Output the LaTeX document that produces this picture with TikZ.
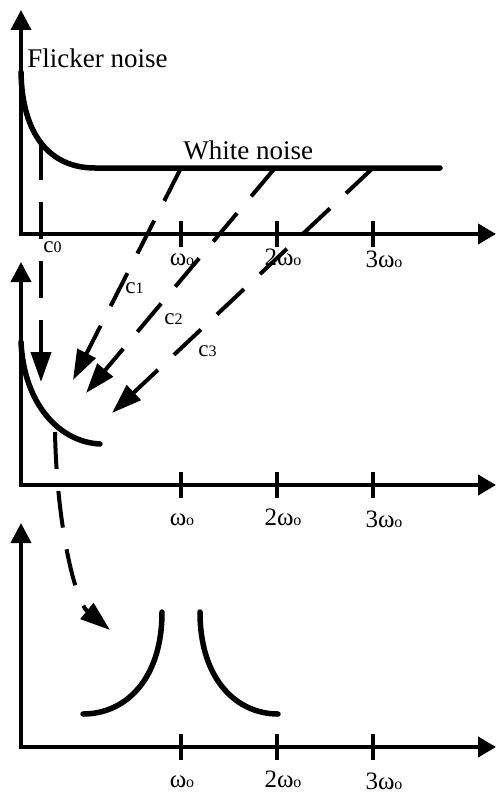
\documentclass[tikz,border=0pt]{standalone}
\usepackage{fontspec}
\setmainfont{Liberation Serif}
\usetikzlibrary{arrows.meta,positioning}

\newcommand{\wo}[1]{#1ω{\fontsize{8}{9}\selectfont o}}
\newcommand{\cn}[1]{c{\fontsize{8}{9}\selectfont #1}}

\begin{document}
\begin{tikzpicture}[x=0.5pt,y=-0.5pt,
  axis/.style={line width=2pt,{Triangle[length=10pt,width=10pt]}-{Triangle[length=9pt,width=10pt]}},
  ticmark/.style={line width=2pt},
  noise/.style={line width=2.75pt,line cap=round},
  shiftarrow/.style={line width=2pt,dash pattern=on 18.5pt off 11pt,-{Triangle[length=15pt,width=10pt]}},
  lbl/.style={inner sep=0pt,anchor=base,font=\fontsize{12.5}{14}\selectfont},
  txt/.style={inner sep=0pt,anchor=base west,font=\fontsize{13.5}{15}\selectfont},
  clbl/.style={inner sep=0pt,anchor=base west,font=\fontsize{11.5}{14}\selectfont}]
\useasboundingbox (0,0) rectangle (496,792);

% axes and ticks of the three spectra
\foreach \base/\top/\lb in {234/10/265, 485/262/525, 747/523/787} {
  \draw[axis] (21,\top) -- (21,\base) -- (496,\base);
  \foreach \x in {181,277,373}
    \draw[ticmark] (\x,\base-13) -- (\x,\base+13);
  \node[lbl] at (182,\lb) {\wo{}};
  \node[lbl] at (283,\lb) {\wo{2}};
  \node[lbl] at (384,\lb+2) {\wo{3}};
}

% spectrum of the source
\draw[noise] (21,72) .. controls (22,135) and (50,168) .. (95,168) -- (440,168);
\node[txt] (flicker) at (27,68) {Flicker noise};
\node[txt] (white) at (183,159) {White noise};

% down-converted noise
\draw[noise] (21,342) .. controls (24,405) and (60,442) .. (100,444);

% noise around the carrier
\draw[noise] (162,612) .. controls (162,680) and (125,714) .. (83,714);
\draw[noise] (200,612) .. controls (200,680) and (237,714) .. (278,714);

% folding arrows
\coordinate (s0) at (41,143);  \coordinate (e0) at (41,382);
\coordinate (s1) at (181,168); \coordinate (e1) at (73,380);
\coordinate (s2) at (275,168); \coordinate (e2) at (86,393);
\coordinate (s3) at (373,168); \coordinate (e3) at (112,413);
\coordinate (s4) at (55,432);  \coordinate (e4) at (110,630);
\draw[shiftarrow] (s0) -- (e0);
\draw[shiftarrow] (s1) -- (e1);
\draw[shiftarrow] (s2) -- (e2);
\draw[shiftarrow] (s3) -- (e3);
\draw[shiftarrow] (s4) .. controls (57,530) and (76,602) .. (e4);

\node[clbl] (c0) at (43,252) {\cn{0}};
\node[clbl] (c1) at (125,293) {\cn{1}};
\node[clbl] (c2) at (164,324) {\cn{2}};
\node[clbl] (c3) at (198,356) {\cn{3}};

\end{tikzpicture}
\end{document}
